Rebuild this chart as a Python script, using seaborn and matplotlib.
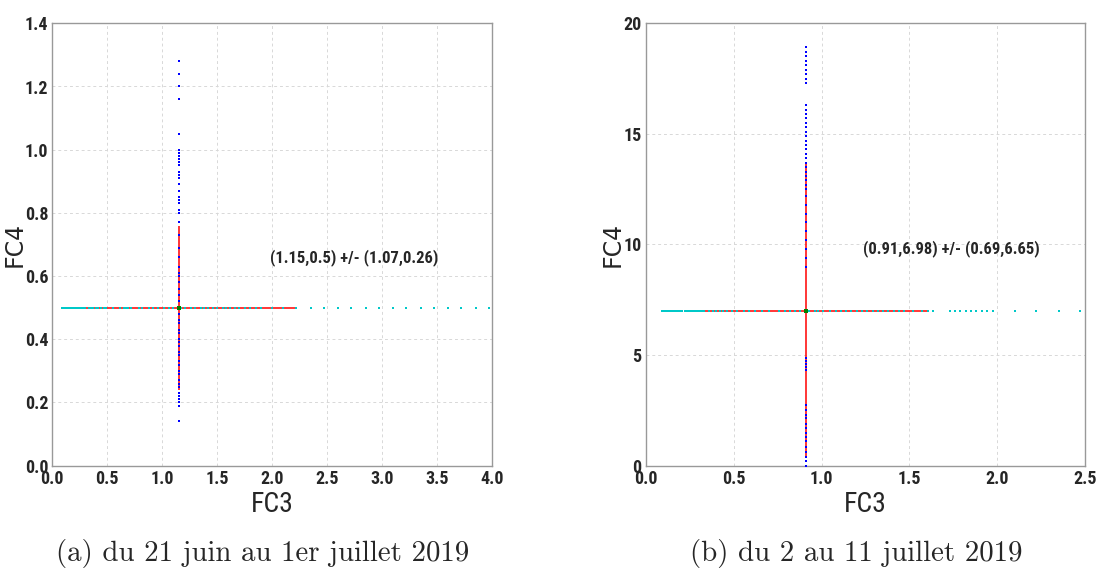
import numpy as np
import pandas as pd
import matplotlib.pyplot as plt
import seaborn as sns

# panel (a) du 21 juin au 1er juillet 2019
center_a = (1.15, 0.5)
err_a = (1.07, 0.26)
fc3_a = [0.085, 0.09, 0.095, 0.10, 0.105, 0.11, 0.12, 0.125, 0.13, 0.14, 0.15, 0.16,
         0.17, 0.18, 0.19, 0.20, 0.21, 0.22, 0.23, 0.24, 0.26, 0.27, 0.29, 0.30, 0.33,
         0.35, 0.37, 0.40, 0.42, 0.44, 0.47, 0.49, 0.55, 0.62, 0.65, 0.67, 0.69, 0.72,
         0.79, 0.82, 0.88, 0.92, 0.96, 1.02, 1.06, 1.10, 1.17, 1.21, 1.26, 1.30, 1.35,
         1.38, 1.42, 1.46, 1.50, 1.55, 1.58, 1.62, 1.66, 1.70, 1.75, 1.80, 1.85, 1.90,
         2.00, 2.10, 2.22, 2.35, 2.47, 2.60, 2.72, 2.85, 2.97, 3.10, 3.22, 3.35, 3.47,
         3.60, 3.72, 3.85, 3.97]
fc4_a = [0.14, 0.19, 0.20, 0.21, 0.22, 0.23, 0.25, 0.26, 0.27, 0.29, 0.30, 0.32, 0.33,
         0.35, 0.36, 0.38, 0.39, 0.40, 0.42, 0.43, 0.45, 0.46, 0.48, 0.52, 0.54, 0.56,
         0.58, 0.60, 0.61, 0.63, 0.66, 0.69, 0.73, 0.77, 0.80, 0.81, 0.83, 0.84, 0.85,
         0.87, 0.89, 0.91, 0.92, 0.93, 0.95, 0.96, 0.97, 0.98, 0.99, 1.00, 1.05, 1.16,
         1.20, 1.24, 1.28]
label_a = "(1.15,0.5) +/- (1.07,0.26)"
caption_a = "(a) du 21 juin au 1er juillet 2019"

# panel (b) du 2 au 11 juillet 2019
center_b = (0.91, 6.98)
err_b = (0.69, 6.65)
fc3_b = [0.094, 0.10, 0.105, 0.11, 0.115, 0.12, 0.13, 0.14, 0.15, 0.16, 0.17, 0.18,
         0.19, 0.20, 0.205, 0.224, 0.23, 0.24, 0.25, 0.26, 0.27, 0.28, 0.29, 0.30,
         0.31, 0.32, 0.33, 0.36, 0.38, 0.40, 0.42, 0.44, 0.46, 0.49, 0.52, 0.56, 0.59,
         0.62, 0.66, 0.70, 0.76, 0.79, 0.82, 0.85, 0.88, 0.93, 0.96, 0.98, 1.01, 1.05,
         1.08, 1.11, 1.14, 1.17, 1.20, 1.23, 1.26, 1.29, 1.32, 1.35, 1.38, 1.41, 1.44,
         1.47, 1.52, 1.57, 1.607, 1.635, 1.73, 1.76, 1.79, 1.82, 1.85, 1.88, 1.91,
         1.94, 1.976, 2.10, 2.22, 2.35, 2.47]
fc4_b = [0.0, 0.2, 0.4, 0.6, 0.85, 1.1, 1.3, 1.5, 1.7, 1.9, 2.15, 2.3, 2.5, 2.74, 4.33,
         4.45, 4.6, 4.75, 4.87, 9.0, 9.4, 9.8, 10.2, 10.6, 11.0, 11.4, 11.8, 12.2, 12.5,
         12.7, 12.9, 13.1, 13.3, 13.5, 13.7, 13.9, 14.1, 14.3, 14.5, 14.7, 14.9, 15.1,
         15.3, 15.5, 15.7, 15.9, 16.1, 16.31, 17.29, 17.5, 17.7, 17.9, 18.1, 18.3, 18.5,
         18.7, 18.94]
label_b = "(0.91,6.98) +/- (0.69,6.65)"
caption_b = "(b) du 2 au 11 juillet 2019"

sns.set_style("whitegrid")
plt.rcParams["font.family"] = ["DejaVu Sans"]
narrow = ["Roboto Condensed", "DejaVu Sans"]

fig = plt.figure(figsize=(10.97, 5.68), dpi=100)
ax_a = fig.add_axes([52.3 / 1097, 1 - 465.7 / 568, 439.7 / 1097, 442.4 / 568])
ax_b = fig.add_axes([645.7 / 1097, 1 - 465.7 / 568, 439.6 / 1097, 442.4 / 568])


def draw(ax, center, err, fc3, fc4, label, text_pos, xlim, ylim, xticks, yticks, ytl, ylab_x):
    cx, cy = center
    ax.errorbar(cx, cy, xerr=err[0], yerr=err[1], fmt="none", ecolor="red",
                elinewidth=1.1, capsize=0, zorder=2)
    h = pd.DataFrame({"FC3": fc3, "FC4": [cy] * len(fc3)})
    v = pd.DataFrame({"FC3": [cx] * len(fc4), "FC4": fc4})
    sns.scatterplot(data=h, x="FC3", y="FC4", ax=ax, color="#00c8c8", marker="s",
                    s=4, linewidth=0, zorder=3)
    sns.scatterplot(data=v, x="FC3", y="FC4", ax=ax, color="blue", marker="s",
                    s=2.5, linewidth=0, zorder=3)
    ax.scatter([cx], [cy], color="green", marker="s", s=8, linewidth=0, zorder=4)
    ax.set_xlim(*xlim)
    ax.set_ylim(*ylim)
    ax.set_xticks(xticks)
    ax.set_yticks(yticks)
    ax.set_yticklabels(ytl)
    ax.set_xticklabels([f"{t:.1f}" for t in xticks])
    for t in ax.get_xticklabels() + ax.get_yticklabels():
        t.set_family(narrow)
        t.set_fontweight("bold")
        t.set_fontsize(13)
    ax.tick_params(length=0, pad=3)
    ax.grid(True, color="#d8d8d8", linestyle=(0, (3, 3)), linewidth=0.7)
    for s in ax.spines.values():
        s.set_color("#999999")
        s.set_linewidth(1.0)
    ax.set_xlabel("FC3", family=narrow, fontsize=20, labelpad=2)
    ax.set_ylabel("FC4", fontsize=17)
    ax.yaxis.set_label_coords(ylab_x, 0.5)
    ax.text(text_pos[0], text_pos[1], label, family=narrow,
            fontweight="bold", fontsize=12, va="center", ha="left")


draw(ax_a, center_a, err_a, fc3_a, fc4_a, label_a, (1.98, 0.66),
     (0, 4.0), (0, 1.4), [0, 0.5, 1.0, 1.5, 2.0, 2.5, 3.0, 3.5, 4.0],
     [0, 0.2, 0.4, 0.6, 0.8, 1.0, 1.2, 1.4],
     ["0.0", "0.2", "0.4", "0.6", "0.8", "1.0", "1.2", "1.4"], -0.058)
draw(ax_b, center_b, err_b, fc3_b, fc4_b, label_b, (1.234, 9.84),
     (0, 2.5), (0, 20), [0, 0.5, 1.0, 1.5, 2.0, 2.5],
     [0, 5, 10, 15, 20], ["0", "5", "10", "15", "20"], -0.048)

fig.text(262.5 / 1097, 1 - 553 / 568, caption_a, family=["cmr10", "DejaVu Serif"],
         fontsize=20.8, ha="center", va="center")
fig.text(856 / 1097, 1 - 553 / 568, caption_b, family=["cmr10", "DejaVu Serif"],
         fontsize=20.8, ha="center", va="center")

fig.savefig("out.png", dpi=100)
